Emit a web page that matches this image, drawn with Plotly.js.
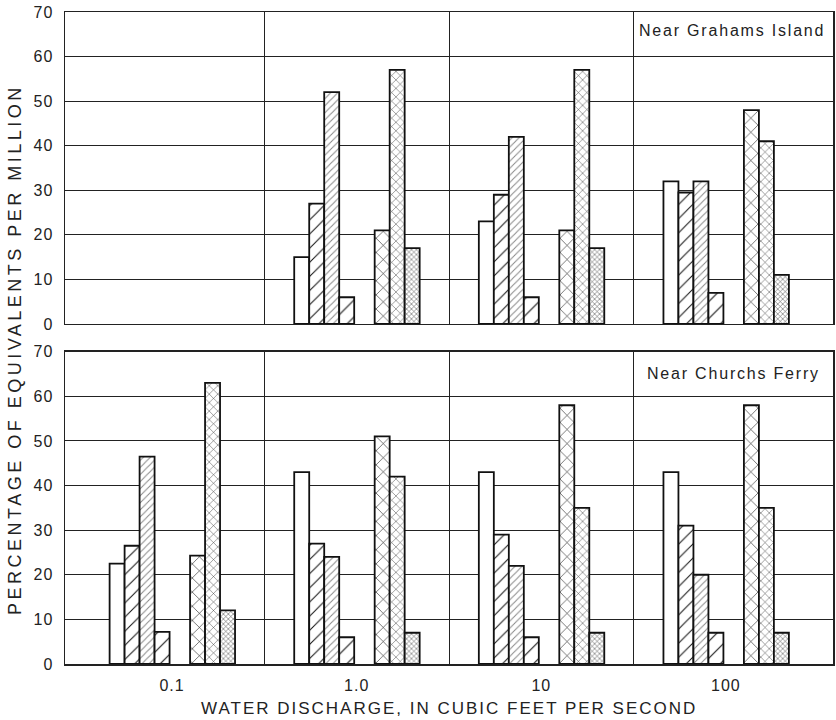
<!DOCTYPE html>
<html>
<head>
<meta charset="utf-8">
<script src="https://cdn.plot.ly/plotly-3.0.1.min.js"></script>
<style>
  body { margin: 0; background: #fff; }
  #chart { width: 836px; height: 720px; }
  .annotation-text { letter-spacing: 1.8px; }
  .xtick text, .ytick text, .y2tick text { letter-spacing: 1px; }
</style>
</head>
<body>
<div id="chart"></div>
<script>
// Water discharge categories (cubic feet per second)
const discharge = ['0.1', '1.0', '10', '100'];

// Ion series (percentage of equivalents per million)
const seriesNames = ['Calcium', 'Magnesium', 'Sodium', 'Potassium', 'Bicarbonate', 'Sulfate', 'Chloride'];

// Near Grahams Island (upper panel)
const grahamsCalcium     = [null, 15, 23, 32];
const grahamsMagnesium   = [null, 27, 29, 29.5];
const grahamsSodium      = [null, 52, 42, 32];
const grahamsPotassium   = [null, 6, 6, 7];
const grahamsBicarbonate = [null, 21, 21, 48];
const grahamsSulfate     = [null, 57, 57, 41];
const grahamsChloride    = [null, 17, 17, 11];

// Near Churchs Ferry (lower panel)
const churchsCalcium     = [22.5, 43, 43, 43];
const churchsMagnesium   = [26.5, 27, 29, 31];
const churchsSodium      = [46.5, 24, 22, 20];
const churchsPotassium   = [7.2, 6, 6, 7];
const churchsBicarbonate = [24.3, 51, 58, 58];
const churchsSulfate     = [63, 42, 35, 35];
const churchsChloride    = [12, 7, 7, 7];

const grahams = [grahamsCalcium, grahamsMagnesium, grahamsSodium, grahamsPotassium,
                 grahamsBicarbonate, grahamsSulfate, grahamsChloride];
const churchs = [churchsCalcium, churchsMagnesium, churchsSodium, churchsPotassium,
                 churchsBicarbonate, churchsSulfate, churchsChloride];

// x position of each group on a log10 scale
const xpos = discharge.map(d => Math.log10(parseFloat(d)));
const mids = xpos.slice(1).map((v, i) => (v + xpos[i]) / 2);

// styling
const pxPerUnit = 184.7;
const barW = 15 / pxPerUnit;
const leftEdgesPx = [-62.5, -47.5, -32.5, -17.5, 18, 33, 48];
const patterns = [
  null,
  {shape: '/', size: 10, solidity: 0.1,  fgcolor: '#111', bgcolor: '#fff'},
  {shape: '/', size: 5,  solidity: 0.2,  fgcolor: '#888', bgcolor: '#fff'},
  {shape: '/', size: 12, solidity: 0.09, fgcolor: '#111', bgcolor: '#fff'},
  {shape: 'x', size: 10, solidity: 0.11, fgcolor: '#111', bgcolor: '#fff'},
  {shape: 'x', size: 6,  solidity: 0.16, fgcolor: '#444', bgcolor: '#fff'},
  {shape: 'x', size: 3.5, solidity: 0.3, fgcolor: '#555', bgcolor: '#fff'}
];

const traces = [];
function addPanel(data, xa, ya) {
  data.forEach((vals, i) => {
    const marker = {color: '#fff', line: {color: '#111', width: 1.8}};
    if (patterns[i]) marker.pattern = patterns[i];
    traces.push({
      type: 'bar', x: xpos, y: vals, name: seriesNames[i],
      width: barW, offset: leftEdgesPx[i] / pxPerUnit,
      marker: marker, xaxis: xa, yaxis: ya, showlegend: false,
      hoverinfo: 'name+y'
    });
  });
}
addPanel(grahams, 'x2', 'y2');
addPanel(churchs, 'x', 'y');

const font = 'Liberation Sans, Arial, Helvetica, sans-serif';
const gridC = '#222';
const xCommon = {
  range: [-1.58, 2.58], showgrid: false, zeroline: false,
  showline: true, mirror: true, linecolor: '#222', linewidth: 1.5,
  tickvals: xpos, ticktext: discharge, ticks: '', ticklabelstandoff: 6,
  minor: {tickvals: mids, showgrid: true, gridcolor: gridC, gridwidth: 1, ticks: ''},
  tickfont: {family: 'Liberation Sans Narrow, Liberation Sans, Arial, sans-serif', size: 16, color: '#222'},
  fixedrange: true
};
const yCommon = {
  range: [0, 70], tickvals: [0, 10, 20, 30, 40, 50, 60, 70],
  showgrid: true, gridcolor: gridC, gridwidth: 1, zeroline: false,
  showline: true, mirror: true, linecolor: '#222', linewidth: 1.5,
  ticks: '', ticklabelstandoff: 7,
  tickfont: {family: font, size: 16, color: '#222'}, fixedrange: true
};

const layout = {
  width: 836, height: 720,
  margin: {l: 65, r: 3, t: 12, b: 56},
  paper_bgcolor: '#fff', plot_bgcolor: '#fff',
  barmode: 'overlay', bargap: 0,
  font: {family: font, color: '#222'},
  xaxis: Object.assign({}, xCommon, {anchor: 'y', domain: [0, 1]}),
  yaxis: Object.assign({}, yCommon, {anchor: 'x', domain: [0, 0.479]}),
  xaxis2: Object.assign({}, xCommon, {anchor: 'y2', domain: [0, 1], showticklabels: false, matches: 'x'}),
  yaxis2: Object.assign({}, yCommon, {anchor: 'x2', domain: [0.5215, 1]}),
  annotations: [
    {text: 'Near Grahams Island', xref: 'x2 domain', yref: 'y2 domain', x: 0.992, y: 0.942,
     xanchor: 'right', yanchor: 'middle', showarrow: false, font: {family: font, size: 16, color: '#222'}},
    {text: 'Near Churchs Ferry', xref: 'x domain', yref: 'y domain', x: 0.986, y: 0.931,
     xanchor: 'right', yanchor: 'middle', showarrow: false, font: {family: font, size: 16, color: '#222'}},
    {text: '<span style="letter-spacing:3.5px">PERCENTAGE OF EQUIVALENTS PER MILLION</span>', xref: 'paper', yref: 'paper', x: -0.066, y: 0.482,
     textangle: -90, xanchor: 'center', yanchor: 'middle', showarrow: false,
     font: {family: font, size: 18, color: '#222'}},
    {text: '<span style="letter-spacing:2px">WATER DISCHARGE, IN CUBIC FEET PER SECOND</span>', xref: 'paper', yref: 'paper', x: 0.5, y: -0.0675,
     xanchor: 'center', yanchor: 'middle', showarrow: false,
     font: {family: font, size: 17, color: '#222'}}
  ]
};

Plotly.newPlot('chart', traces, layout, {displayModeBar: false, staticPlot: true});
</script>
</body>
</html>
